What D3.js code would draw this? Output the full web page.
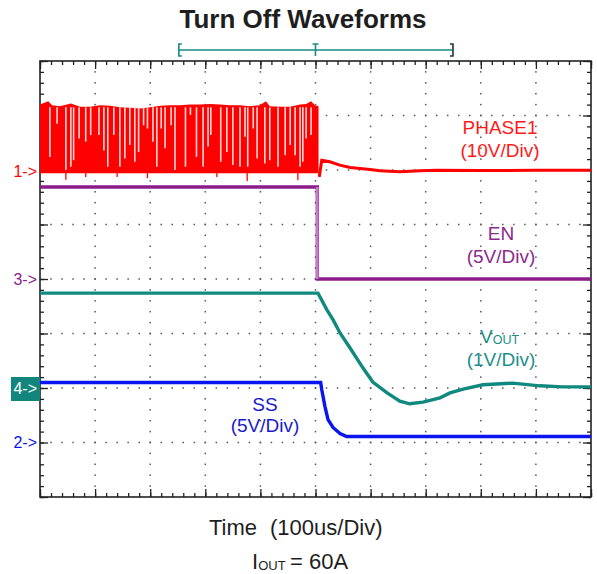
<!DOCTYPE html>
<html>
<head>
<meta charset="utf-8">
<script src="https://cdn.jsdelivr.net/npm/d3@7"></script>
<style>
  body { margin: 0; background: #fff; }
  svg { display: block; font-family: "Liberation Sans", Arial, sans-serif; }
</style>
</head>
<body>
<div id="chart"></div>
<script>
// time in us (100us/div, trigger at 0), values in volts of each channel
const phaseTop = [[-500,12.3],[-485,12.9],[-478,12.2],[-464,12.0],[-444,12.5],[-427,11.9],[-409,11.9],
  [-391,12.2],[-373,12.1],[-355,11.8],[-337,11.7],[-318,11.6],[-300,11.8],[-282,12.1],[-264,12.2],
  [-246,12.2],[-228,12.3],[-210,12.3],[-191,12.4],[-173,12.3],[-155,12.2],[-137,12.2],[-119,12.0],
  [-101,12.2],[-90,12.9],[-83,12.0],[-64,11.9],[-46,11.9],[-28,12.3],[-17,12.4],[-8,12.9],[-1,12.2],[5.5,12.0]]
const phaseGaps = [[-482,2.7],[-469,8.8],[-453,0.3],[-444,0.9],[-439,2.1],[-429,6.1],[-417,5.5],[-408,6.7],
  [-393,6.7],[-384,3.9],[-377,0.9],[-366,6.7],[-355,0.9],[-346,2.4],[-337,4.9],[-328,1.8],[-321,3.6],
  [-312,8.5],[-305,7.9],[-295,5.5],[-288,0.9],[-280,7.9],[-273,4.3],[-262,8.5],[-255,0.3],[-236,0.9],
  [-227,10.4],[-216,2.7],[-204,0.9],[-195,4.6],[-190,6.7],[-172,1.8],[-161,3.6],[-150,1.2],[-137,0.9],
  [-128,6.4],[-123,0.9],[-113,7.9],[-106,2.4],[-92,1.5],[-83,2.1],[-68,0.9],[-55,3.0],[-46,4.9],
  [-37,3.0],[-28,0.9],[-23,1.8],[-17,6.1],[-8,6.7]]
const phaseDips = [[-453,-1.5],[-417,-1.0],[-360,-1.0],[-305,-1.2],[-179,-1.0],[-124,-1.7],[-32,-1.6],[7,-1.0]]
const phaseTail = [[6.9,-0.95],[11.3,2.1],[26,1.8],[44,1.2],[63,0.77],[81,0.59],[99,0.4],[117,0.15],
  [153,0.0],[190,0.15],[220,0.27],[300,0.2],[400,0.25],[500,0.25]]
const enTrace = [[-500,8.44],[3.3,8.44],[3.3,0],[500,0]]
const voutTrace = [[-500,1.74],[4.5,1.74],[21,1.43],[32,1.25],[44.5,1.01],[63,0.73],[86,0.37],[104,0.11],
  [130,-0.09],[153,-0.24],[171,-0.29],[195,-0.26],[226,-0.18],[244,-0.09],[268,-0.02],[304,0.06],
  [358,0.09],[407,0.04],[448,0.02],[500,0.02]]
const ssTrace = [[-500,5.5],[9.4,5.5],[11.3,4.86],[17.2,3.3],[22.7,2.1],[31.8,1.38],[44.5,0.83],[56.6,0.55],[500,0.55]]

// channel: ground offset (div), volts/div
const channels = {
  ch1: {off: 1.97, vdiv: 10, color: "#ff0000", mark: "1->"},
  ch3: {off: 0,    vdiv: 5,  color: "#8c1c8c", mark: "3->"},
  ch4: {off: -2,   vdiv: 1,  color: "#10897f", mark: "4->"},
  ch2: {off: -3,   vdiv: 5,  color: "#0a14f0", mark: "2->"}
}

const W = 597, H = 574
const x = d3.scaleLinear().domain([-500,500]).range([40,591])
const y = d3.scaleLinear().domain([-4,4]).range([497,61])
const cy = ch => v => y(channels[ch].off + v / channels[ch].vdiv)

const svg = d3.select("#chart").append("svg").attr("width", W).attr("height", H)

// title
svg.append("text").attr("x", 303).attr("y", 28).attr("text-anchor","middle")
  .style("font-size","26px").style("font-weight","bold").attr("fill","#1e1e1e")
  .text("Turn Off Waveforms")

// trigger/record bar
const tb = svg.append("g").attr("stroke","#1a8a85").attr("stroke-width",1.6).attr("fill","none")
tb.append("line").attr("x1",x(-248)).attr("x2",x(249.5)).attr("y1",50).attr("y2",50)
tb.append("path").attr("d",`M${x(-248)+3},44H${x(-248)}V56H${x(-248)+3}`)
tb.append("path").attr("d",`M${x(249.5)-3},44H${x(249.5)}V56H${x(249.5)-3}`).attr("stroke","#1b3a38")
tb.append("path").attr("d",`M${x(0)-3},44H${x(0)+3}M${x(0)},44V56`)

// grid dots
const grid = svg.append("g").attr("fill","#555")
d3.range(-400,401,100).forEach(t => {
  grid.selectAll(null).data(d3.range(-3.8,3.81,0.2)).enter().append("rect")
    .attr("x", x(t)-0.75).attr("y", d => y(d)-0.75).attr("width",1.5).attr("height",1.5)
})
d3.range(-3,3.01,1).forEach(v => {
  grid.selectAll(null).data(d3.range(-480,481,20)).enter().append("rect")
    .attr("x", d => x(d)-0.75).attr("y", y(v)-0.75).attr("width",1.5).attr("height",1.5)
})

// frame ticks
const tickStyle = g => { g.select(".domain").remove(); g.selectAll("line").attr("stroke","#222").attr("stroke-width",1.3) }
const minT = d3.range(-500,501,20), majT = d3.range(-500,501,100)
const minV = d3.range(-4,4.01,0.2), majV = d3.range(-4,4.01,1)
;[[minT,-4],[majT,-8]].forEach(([vals,s]) => {
  svg.append("g").attr("transform","translate(0,61)")
    .call(d3.axisTop(x).tickValues(vals).tickSize(s).tickFormat("")).call(tickStyle)
  svg.append("g").attr("transform","translate(0,497)")
    .call(d3.axisBottom(x).tickValues(vals).tickSize(s).tickFormat("")).call(tickStyle)
})
;[[minV,-4],[majV,-8]].forEach(([vals,s]) => {
  svg.append("g").attr("transform","translate(40,0)")
    .call(d3.axisLeft(y).tickValues(vals).tickSize(s).tickFormat("")).call(tickStyle)
  svg.append("g").attr("transform","translate(591,0)")
    .call(d3.axisRight(y).tickValues(vals).tickSize(s).tickFormat("")).call(tickStyle)
})
svg.selectAll(".tick text").remove()
svg.append("rect").attr("x",40).attr("y",61).attr("width",551).attr("height",436)
  .attr("fill","none").attr("stroke","#222").attr("stroke-width",1.6)

// traces
const line = ch => d3.line().x(d => x(d[0])).y(d => cy(ch)(d[1]))

// PHASE1 switching block
const c1 = channels.ch1
svg.append("path").datum(phaseTop)
  .attr("d", d3.area().x(d => x(d[0])).y0(cy("ch1")(0)).y1(d => cy("ch1")(d[1])))
  .attr("fill", c1.color)
svg.selectAll(null).data(phaseGaps).enter().append("line")
  .attr("x1", d => x(d[0])).attr("x2", d => x(d[0]))
  .attr("y1", cy("ch1")(11.8)).attr("y2", d => cy("ch1")(d[1]))
  .attr("stroke","#ffd6d6").attr("stroke-width",1.6)
svg.selectAll(null).data(phaseDips).enter().append("line")
  .attr("x1", d => x(d[0])).attr("x2", d => x(d[0]))
  .attr("y1", cy("ch1")(0)).attr("y2", d => cy("ch1")(d[1]))
  .attr("stroke", c1.color).attr("stroke-width",1.3)
svg.append("path").datum([[-500,0],[5.5,0]]).attr("d", line("ch1"))
  .attr("stroke", c1.color).attr("stroke-width",3).attr("fill","none")
svg.append("path").datum(phaseTail).attr("d", line("ch1"))
  .attr("stroke", c1.color).attr("stroke-width",3).attr("fill","none")

// EN
svg.append("path").datum(enTrace).attr("d", line("ch3"))
  .attr("stroke", channels.ch3.color).attr("stroke-width",3.4).attr("fill","none")
svg.append("path").datum(enTrace.slice(1,3)).attr("d", line("ch3"))
  .attr("stroke","#c77ac7").attr("stroke-width",2.6).attr("fill","none")

// VOUT
svg.append("path").datum(voutTrace).attr("d", line("ch4"))
  .attr("stroke", channels.ch4.color).attr("stroke-width",3.4).attr("fill","none")

// SS
svg.append("path").datum(ssTrace).attr("d", line("ch2"))
  .attr("stroke", channels.ch2.color).attr("stroke-width",3.4).attr("fill","none")

// ground markers
Object.keys(channels).forEach(k => {
  const c = channels[k], yy = y(c.off)
  if (k === "ch4") {
    svg.append("rect").attr("x",11).attr("y",yy-11).attr("width",29).attr("height",24).attr("fill","#12857c")
  }
  svg.append("text").attr("x",37).attr("y",yy+5.5).attr("text-anchor","end")
    .style("font-size","16px").attr("fill", k === "ch4" ? "#fff" : c.color).text(c.mark)
})

// channel labels
const lab = (tx, ty, txt, color, size) => svg.append("text").attr("x",tx).attr("y",ty)
  .attr("text-anchor","middle").style("font-size",(size||19)+"px").attr("fill",color).text(txt)
lab(500,134,"PHASE1","#ff1a1a")
lab(500,157,"(10V/Div)","#ff1a1a")
lab(501,240,"EN","#8c2a8c")
lab(501,263,"(5V/Div)","#8c2a8c")
const vo = svg.append("text").attr("x",480).attr("y",343).style("font-size","19px").attr("fill","#1b8f87")
vo.append("tspan").text("V")
vo.append("tspan").attr("dy",1).style("font-size","12.5px").text("OUT")
lab(501,366,"(1V/Div)","#1b8f87")
lab(265,411,"SS","#1a1acc")
lab(265,432,"(5V/Div)","#1a1acc")

// bottom captions
const tl = svg.append("text").attr("x",209).attr("y",535).style("font-size","22px").attr("fill","#1e1e1e")
tl.append("tspan").text("Time")
tl.append("tspan").attr("x",270).text("(100us/Div)")
const io = svg.append("text").attr("x",252).attr("y",569).style("font-size","22px").attr("fill","#1e1e1e")
io.append("tspan").text("I")
io.append("tspan").attr("dy",1).style("font-size","13px").text("OUT")
io.append("tspan").attr("x",290).attr("dy",-1).text("= 60A")
</script>
</body>
</html>
